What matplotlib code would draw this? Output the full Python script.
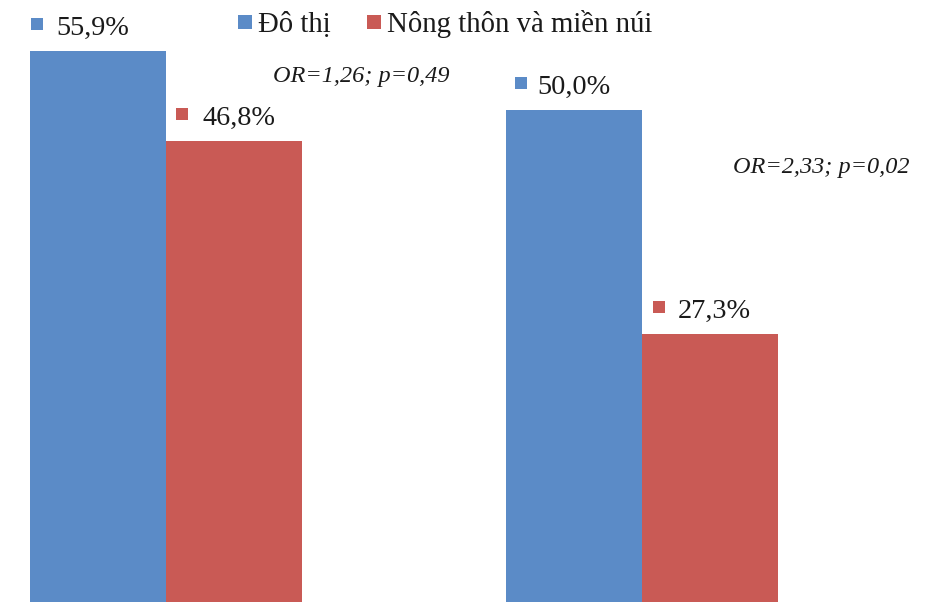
import matplotlib
matplotlib.use("Agg")
import matplotlib.pyplot as plt
from matplotlib.lines import Line2D
from matplotlib.transforms import offset_copy
import numpy as np

groups = ["Nhóm 1", "Nhóm 2"]
series_names = ["Đô thị", "Nông thôn và miền núi"]
do_thi = [55.9, 50.0]
nong_thon = [46.8, 27.3]
labels_do_thi = ["55,9%", "50,0%"]
labels_nong_thon = ["46,8%", "27,3%"]
or_texts = ["OR=1,26; p=0,49", "OR=2,33; p=0,02"]

colors = ["#5B8BC7", "#C95A55"]
text_color = "#1a1a1a"
plt.rcParams['font.family'] = ['Liberation Serif', 'DejaVu Serif']

fig = plt.figure(figsize=(9.25, 6.02), dpi=100)
ax = fig.add_axes([0, 0, 1, 1])
x = np.arange(len(groups))
w = 0.2857
ax.bar(x - w/2, do_thi, width=w, color=colors[0])
ax.bar(x + w/2, nong_thon, width=w, color=colors[1])
ax.set_xlim(-0.349, 1.595)
ax.set_ylim(0.2, 61.1)
ax.axis('off')

fs = 20.3
# label placement (pixel offsets from bar's top-left corner): (marker dx, text dx)
label_offsets = {(0, 0): (6.5, 26), (1, 0): (15.5, 36), (0, 1): (15.5, 31), (1, 1): (17, 36)}
for s, (series, labs, off, c) in enumerate([(do_thi, labels_do_thi, -w, colors[0]),
                                             (nong_thon, labels_nong_thon, 0, colors[1])]):
    for i, (v, lab) in enumerate(zip(series, labs)):
        xl = x[i] + off
        mdx, tdx = label_offsets[(s, i)]
        tr_m = offset_copy(ax.transData, fig=fig, x=mdx, y=27, units='dots')
        ax.plot([xl], [v], marker='s', markersize=9.3, markeredgewidth=0, color=c,
                transform=tr_m, clip_on=False)
        ax.annotate(lab, xy=(xl, v), xytext=(tdx, 16), textcoords='offset pixels',
                    ha='left', va='baseline', fontsize=fs, color=text_color)

# OR texts
ax.text(273/925, 1 - 82/602, or_texts[0], transform=ax.transAxes, ha='left', va='baseline',
        fontsize=17.5, style='italic', color=text_color)
ax.text(733/925, 1 - 173/602, or_texts[1], transform=ax.transAxes, ha='left', va='baseline',
        fontsize=17.5, style='italic', color=text_color)

handles = [Line2D([], [], marker='s', linestyle='none', markersize=9.8, markeredgewidth=0, color=c)
           for c in colors]
leg = ax.legend(handles, series_names, loc='center', bbox_to_anchor=(445/925, 1 - 24/602),
                ncol=2, frameon=False, fontsize=20.7, handlelength=0.5, handletextpad=0.22,
                columnspacing=1.25, borderpad=0, borderaxespad=0)
for t in leg.get_texts():
    t.set_color(text_color)

fig.savefig("out.png", dpi=100)
